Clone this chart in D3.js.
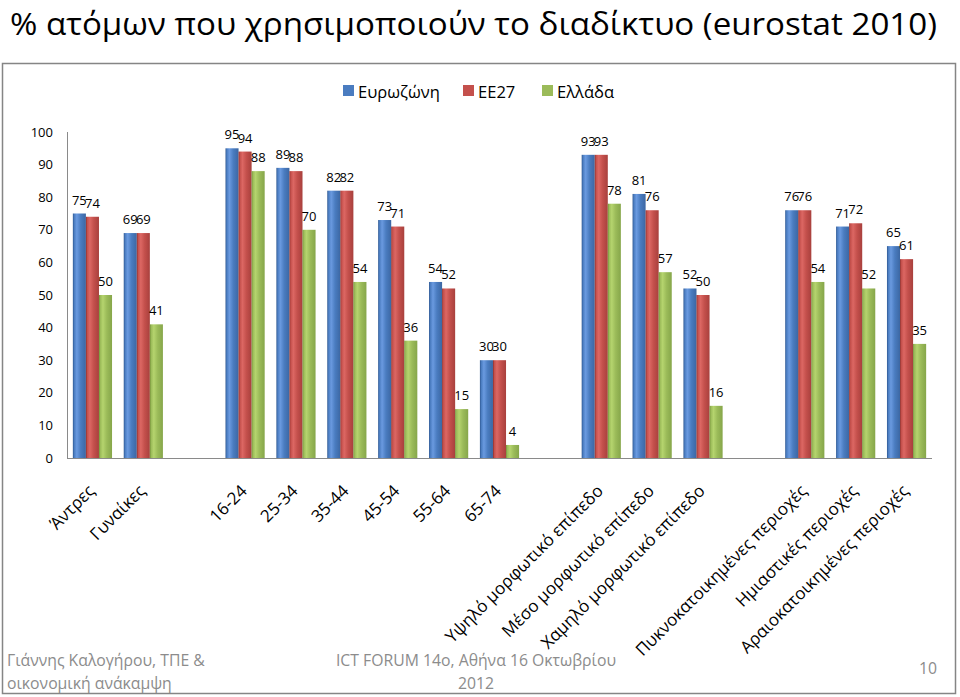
<!DOCTYPE html>
<html><head><meta charset="utf-8">
<script src="https://cdn.jsdelivr.net/npm/d3@7"></script>
<style>
body{margin:0;background:#fff}
svg{display:block}
text{font-family:"Open Sans","Noto Sans",sans-serif}
</style></head>
<body><svg id="c" width="960" height="697"></svg>
<script>
// ---------- data ----------
const categories = ["Άντρες","Γυναίκες","","16-24","25-34","35-44","45-54","55-64","65-74","",
  "Υψηλό μορφωτικό επίπεδο","Μέσο μορφωτικό επίπεδο","Χαμηλό μορφωτικό επίπεδο","",
  "Πυκνοκατοικημένες περιοχές","Ημιαστικές περιοχές","Αραιοκατοικημένες περιοχές"];
const seriesNames = ["Ευρωζώνη","ΕΕ27","Ελλάδα"];
const eurozone = [75,69,null,95,89,82,73,54,30,null,93,81,52,null,76,71,65];
const eu27     = [74,69,null,94,88,82,71,52,30,null,93,76,50,null,76,72,61];
const greece   = [50,41,null,88,70,54,36,15,4,null,78,57,16,null,54,52,35];
const yTicks = [0,10,20,30,40,50,60,70,80,90,100];
const titleText = "% ατόμων που χρησιμοποιούν το διαδίκτυο (eurostat 2010)";
const footerLeft = ["Γιάννης Καλογήρου, ΤΠΕ &","οικονομική ανάκαμψη"];
const footerMid = ["ICT FORUM 14ο, Αθήνα 16 Οκτωβρίου","2012"];
const pageNo = "10";

const seriesValues = [eurozone, eu27, greece];
const colors = [
  {dark:"#2d5690", light:"#6a9ae0", base:"#4a7cc0", edge:"#3c67a3"},
  {dark:"#8a2c2a", light:"#dc6763", base:"#c4504c", edge:"#a8403d"},
  {dark:"#718f35", light:"#b5d46e", base:"#9bbb59", edge:"#86a64a"}
];

const svg = d3.select("#c");

function fitSize(str, target) {
  const t = svg.append("text").attr("font-size", 100).text(str);
  const w = t.node().getComputedTextLength();
  t.remove();
  return 100 * target / w;
}

// gradients
const defs = svg.append("defs");
colors.forEach((c, i) => {
  const g = defs.append("linearGradient").attr("id", "g" + i)
    .attr("x1", 0).attr("x2", 1).attr("y1", 0).attr("y2", 0);
  g.append("stop").attr("offset", "0%").attr("stop-color", c.dark);
  g.append("stop").attr("offset", "10%").attr("stop-color", c.base);
  g.append("stop").attr("offset", "30%").attr("stop-color", c.light);
  g.append("stop").attr("offset", "60%").attr("stop-color", c.base);
  g.append("stop").attr("offset", "100%").attr("stop-color", c.edge);
});

// title
svg.append("text").attr("x", 10).attr("y", 35).attr("font-size", 31)
  .attr("textLength", 927).attr("lengthAdjust", "spacingAndGlyphs")
  .attr("fill", "#000").text(titleText);

// frame
svg.append("rect").attr("x", 2.5).attr("y", 63.5).attr("width", 953).attr("height", 630)
  .attr("fill", "none").attr("stroke", "#858585").attr("stroke-width", 1.5);

// scales
const x = d3.scaleBand().domain(d3.range(categories.length)).range([67, 932])
  .paddingInner(0.23).paddingOuter(0.115);
const xs = d3.scaleBand().domain(d3.range(seriesNames.length)).range([0, x.bandwidth()]);
const y = d3.scaleLinear().domain([0, 100]).range([458, 132]);

// footer (drawn under the axis labels)
const fs = fitSize(footerLeft[0], 198);
const gf = svg.append("g").attr("fill", "#8c8c8c").attr("font-size", fs);
gf.append("text").attr("x", 7).attr("y", 666).text(footerLeft[0]);
gf.append("text").attr("x", 7).attr("y", 689).text(footerLeft[1]);
gf.append("text").attr("x", 476).attr("y", 666).attr("text-anchor", "middle").text(footerMid[0]);
gf.append("text").attr("x", 476).attr("y", 689).attr("text-anchor", "middle").text(footerMid[1]);
gf.append("text").attr("x", 937).attr("y", 674).attr("text-anchor", "end").text(pageNo);

// legend
const ls = fitSize(seriesNames[0], 82);
const legendX = [343, 463, 542];
const lg = svg.append("g");
seriesNames.forEach((s, i) => {
  lg.append("rect").attr("x", legendX[i]).attr("y", 85).attr("width", 11).attr("height", 11)
    .attr("fill", colors[i].base);
  lg.append("text").attr("x", legendX[i] + 15).attr("y", 98).attr("font-size", ls)
    .attr("fill", "#000").text(s);
});

// y axis
const ya = svg.append("g").attr("font-size", 13).attr("fill", "#000");
yTicks.forEach(t => {
  ya.append("text").attr("x", 53).attr("y", y(t) + 4.5).attr("text-anchor", "end").text(t);
});

// bars
const bars = svg.append("g");
seriesValues.forEach((vals, si) => {
  bars.selectAll(null).data(vals.map((v, i) => ({v, i})).filter(d => d.v != null))
    .enter().append("rect")
    .attr("x", d => x(d.i) + xs(si))
    .attr("y", d => y(d.v))
    .attr("width", xs.bandwidth())
    .attr("height", d => y(0) - y(d.v))
    .attr("fill", `url(#g${si})`);
});

// axes lines
svg.append("line").attr("x1", 67.5).attr("x2", 67.5).attr("y1", 132).attr("y2", 458.5)
  .attr("stroke", "#8a8a8a").attr("stroke-width", 1);
svg.append("line").attr("x1", 67).attr("x2", 932).attr("y1", 458.5).attr("y2", 458.5)
  .attr("stroke", "#8a8a8a").attr("stroke-width", 1.2);

// data labels
const dl = svg.append("g").attr("font-size", 13).attr("fill", "#000").attr("text-anchor", "middle");
seriesValues.forEach((vals, si) => {
  vals.forEach((v, i) => {
    if (v == null) return;
    dl.append("text").attr("x", x(i) + xs(si) + xs.bandwidth() / 2)
      .attr("y", y(v) - 9).text(v);
  });
});

// x labels rotated
const xl = svg.append("g").attr("font-size", 17).attr("fill", "#000");
categories.forEach((c, i) => {
  if (!c) return;
  const cx = x(i) + x.bandwidth() / 2 + 3;
  xl.append("text").attr("text-anchor", "end")
    .attr("transform", `translate(${cx},492) rotate(-45)`).text(c);
});
</script></body></html>
